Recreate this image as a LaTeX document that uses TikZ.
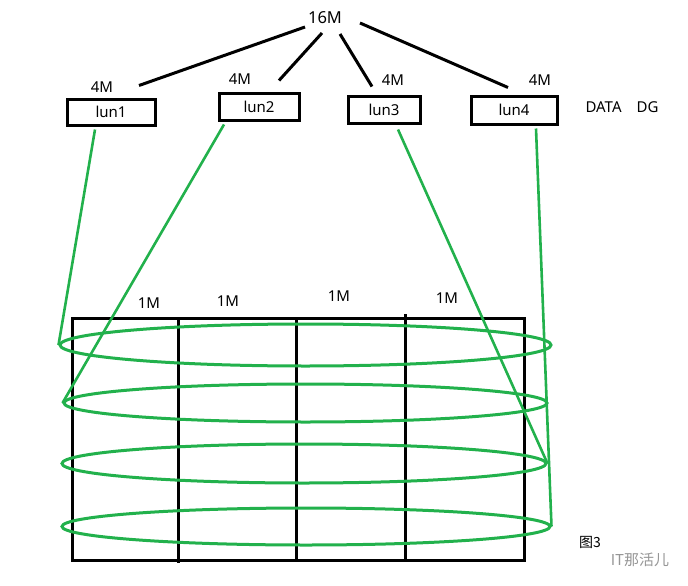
\documentclass[tikz,border=0pt]{standalone}
\usepackage{fontspec}
\setmainfont{Noto Sans}
\newfontfamily\cjk{Noto Sans CJK SC}
\usepackage{tikz}
\usetikzlibrary{calc,shapes.geometric}
\definecolor{ringgreen}{RGB}{34,177,76}
\definecolor{markgray}{RGB}{150,150,150}

\begin{document}
\begin{tikzpicture}[
  x=1pt, y=-1pt,
  lbl/.style={inner sep=0pt, font=\fontsize{15}{17}\selectfont},
  lun/.style={draw, line width=3pt, inner sep=0pt, font=\fontsize{15}{17}\selectfont},
  ring/.style={draw=ringgreen, ellipse, line width=3pt, inner sep=0pt},
  tree/.style={line width=3pt},
  link/.style={draw=ringgreen, line width=2.6pt}
]
  \useasboundingbox (0,0) rectangle (688,586);

  % pool and luns
  \node[lbl, font=\fontsize{16.5}{18}\selectfont] (top) at (325,18) {16M};
  \node[lun, minimum width=88pt, minimum height=26pt] (lun1) at (111,112) {lun1};
  \node[lun, minimum width=80pt, minimum height=27pt] (lun2) at (259,106.5) {lun2};
  \node[lun, minimum width=72pt, minimum height=27pt] (lun3) at (384,109.5) {lun3};
  \node[lun, minimum width=86pt, minimum height=28pt] (lun4) at (514,110) {lun4};
  \node[lbl] (size1) at (102,87) {4M};
  \node[lbl] (size2) at (240,79) {4M};
  \node[lbl] (size3) at (393,80) {4M};
  \node[lbl] (size4) at (540,80) {4M};
  \node[lbl] (dg) at (622,107) {DATA\hspace{15pt}DG};

  \draw[tree] ([xshift=-20pt,yshift=-9pt]top.center) -- ([xshift=28pt,yshift=12pt]lun1.north);
  \draw[tree] ([xshift=-3pt,yshift=-15pt]top.center) -- ([xshift=20pt,yshift=11pt]lun2.north);
  \draw[tree] ([xshift=15pt,yshift=-16pt]top.center) -- ([xshift=-12pt,yshift=8pt]lun3.north);
  \draw[tree] ([xshift=35pt,yshift=-5pt]top.center) -- ([xshift=-6pt,yshift=7pt]lun4.north);

  % disk grid
  \draw[line width=3pt] (72,318) rectangle (524,560);
  \draw[line width=3pt] (178,318) -- (178,563);
  \draw[line width=3pt] (296,318) -- (296,560);
  \draw[line width=3pt] (405,314) -- (405,560);
  \node[lbl] (disk1) at (149,303) {1M};
  \node[lbl] (disk2) at (228,301) {1M};
  \node[lbl] (disk3) at (339,296) {1M};
  \node[lbl] (disk4) at (447,298) {1M};

  % stripes
  \node[ring, minimum width=491pt, minimum height=42pt] (ring1) at (305.5,345) {};
  \node[ring, minimum width=483pt, minimum height=38pt] (ring2) at (305.5,403) {};
  \node[ring, minimum width=484pt, minimum height=39pt] (ring3) at (304,463.5) {};
  \node[ring, minimum width=488pt, minimum height=37pt] (ring4) at (306,526.5) {};

  \draw[link] ([xshift=-16pt,yshift=-3pt]lun1.south) -- (ring1.west);
  \draw[link] ([xshift=-35pt,yshift=-3pt]lun2.south) -- (ring2.west);
  \draw[link] ([xshift=14pt,yshift=-5pt]lun3.south) -- (ring3.east);
  \draw[link] ([xshift=22pt,yshift=-3pt]lun4.south) -- (ring4.east);

  \node[lbl, font=\cjk\fontsize{14}{16}\selectfont] (fig) at (590,542) {图3};
  \node[lbl, font=\cjk\fontsize{15}{17}\selectfont, text=markgray] (mark) at (640,560) {IT那活儿};
\end{tikzpicture}
\end{document}
